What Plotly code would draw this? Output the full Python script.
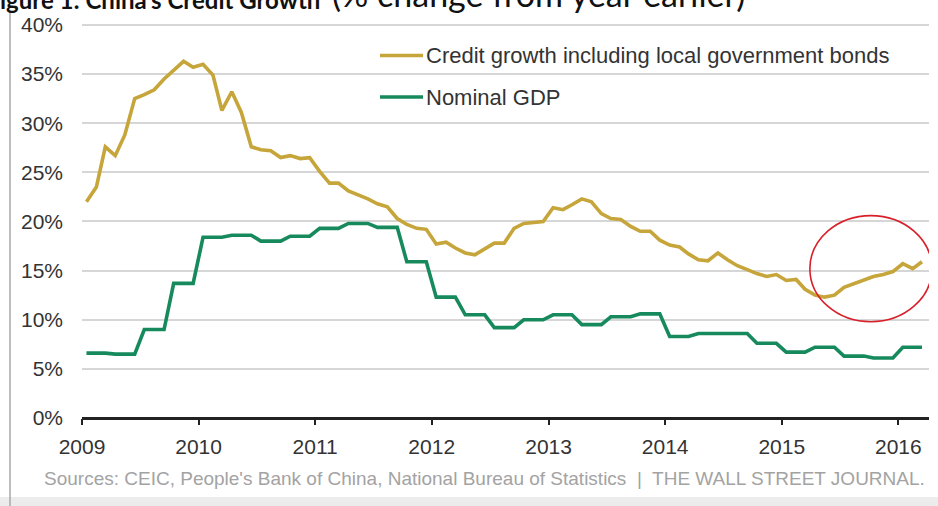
import pandas as pd
import plotly.graph_objects as go

# ---------------- data ----------------
months = pd.date_range("2009-01-01", periods=87, freq="MS") + pd.Timedelta(days=14)

credit_growth = [
    22.0, 23.5, 27.6, 26.7, 28.8, 32.5, 32.9, 33.4, 34.5, 35.4, 36.3, 35.7,   # 2009
    36.0, 34.9, 31.3, 33.2, 31.1, 27.6, 27.3, 27.2, 26.5, 26.7, 26.4, 26.5,   # 2010
    25.1, 23.9, 23.9, 23.1, 22.7, 22.3, 21.8, 21.5, 20.3, 19.7, 19.3, 19.2,   # 2011
    17.7, 17.9, 17.3, 16.8, 16.6, 17.2, 17.8, 17.8, 19.3, 19.8, 19.9, 20.0,   # 2012
    21.4, 21.2, 21.7, 22.3, 22.0, 20.8, 20.3, 20.2, 19.5, 19.0, 19.0, 18.1,   # 2013
    17.6, 17.4, 16.7, 16.1, 16.0, 16.8, 16.1, 15.5, 15.1, 14.7, 14.4, 14.6,   # 2014
    14.0, 14.1, 13.1, 12.5, 12.3, 12.5, 13.3, 13.7, 14.1, 14.4, 14.6, 14.9,   # 2015
    15.7, 15.2, 15.9,                                                         # 2016
]

nominal_gdp = [
    6.6, 6.6, 6.6, 6.5, 6.5, 6.5, 9.0, 9.0, 9.0, 13.7, 13.7, 13.7,
    18.4, 18.4, 18.4, 18.6, 18.6, 18.6, 18.0, 18.0, 18.0, 18.5, 18.5, 18.5,
    19.3, 19.3, 19.3, 19.8, 19.8, 19.8, 19.4, 19.4, 19.4, 15.9, 15.9, 15.9,
    12.3, 12.3, 12.3, 10.5, 10.5, 10.5, 9.2, 9.2, 9.2, 10.0, 10.0, 10.0,
    10.5, 10.5, 10.5, 9.5, 9.5, 9.5, 10.3, 10.3, 10.3, 10.6, 10.6, 10.6,
    8.3, 8.3, 8.3, 8.6, 8.6, 8.6, 8.6, 8.6, 8.6, 7.6, 7.6, 7.6,
    6.7, 6.7, 6.7, 7.2, 7.2, 7.2, 6.3, 6.3, 6.3, 6.1, 6.1, 6.1,
    7.2, 7.2, 7.2,
]

series_names = ["Credit growth including local government bonds", "Nominal GDP"]
series_colors = ["#c6a53a", "#178a5d"]
y_ticks = [0, 5, 10, 15, 20, 25, 30, 35, 40]
y_tick_labels = ["0%", "5%", "10%", "15%", "20%", "25%", "30%", "35%", "40%"]
x_range = ["2009-01-01", "2016-04-06"]
y_range = [0, 40.3]
highlight_x = ["2015-03-30", "2016-04-15"]
highlight_y = [9.8, 20.6]

title_bold = "igure 1: China's Credit Growth"
title_rest = "(% change from year earlier)"
source_text = ("Sources: CEIC, People's Bank of China, National Bureau of Statistics"
               "  |  THE WALL STREET JOURNAL.")

# ---------------- layout geometry ----------------
W, H = 938, 506
ML, MR, MT, MB = 82, 9, 22, 88
PW, PH = W - ML - MR, H - MT - MB


def px(x):
    return (x - ML) / PW


def py(y):
    return (H - MB - y) / PH


FONT = "Liberation Sans, Arial, sans-serif"

fig = go.Figure()
for vals, name, col in zip([credit_growth, nominal_gdp], series_names, series_colors):
    fig.add_trace(go.Scatter(
        x=months, y=vals, name=name, mode="lines",
        line=dict(color=col, width=3.6), showlegend=False,
    ))

shapes = []
annotations = []

# custom legend
for i, (name, col) in enumerate(zip(series_names, series_colors)):
    yy = 55.5 + i * 41.5
    shapes.append(dict(type="line", xref="paper", yref="paper",
                       x0=px(380), x1=px(423), y0=py(yy), y1=py(yy),
                       line=dict(color=col, width=3.6)))
    annotations.append(dict(xref="paper", yref="paper", x=px(424), y=py(yy),
                            xanchor="left", yanchor="middle", showarrow=False,
                            text=name, font=dict(family=FONT, size=22, color="#333333")))

# red highlight ellipse
shapes.append(dict(type="circle", xref="x", yref="y",
                   x0=highlight_x[0], x1=highlight_x[1],
                   y0=highlight_y[0], y1=highlight_y[1],
                   line=dict(color="#d8202a", width=1.6)))

# frame: left border and bottom strip
shapes.append(dict(type="line", xref="paper", yref="paper",
                   x0=px(10), x1=px(10), y0=py(10), y1=py(506),
                   line=dict(color="#a8a8a8", width=1.5)))
shapes.append(dict(type="rect", xref="paper", yref="paper",
                   x0=px(0), x1=px(938), y0=py(497), y1=py(506),
                   fillcolor="#ececec", line=dict(width=0), layer="below"))

# title (cut off at top, as in the reference)
annotations.append(dict(xref="paper", yref="paper", x=px(-2), y=py(-0.5),
                        xanchor="left", yanchor="middle", showarrow=False,
                        text="<b>" + title_bold + "</b>",
                        font=dict(family="Lato, Open Sans, sans-serif", size=24, color="#111111")))
annotations.append(dict(xref="paper", yref="paper", x=px(330), y=py(-6),
                        xanchor="left", yanchor="middle", showarrow=False,
                        text=title_rest,
                        font=dict(family="Lato, Open Sans, sans-serif", size=34, color="#111111")))

# source
annotations.append(dict(xref="paper", yref="paper", x=px(42), y=py(478),
                        xanchor="left", yanchor="middle", showarrow=False,
                        text=source_text,
                        font=dict(family=FONT, size=19, color="#a3a3a3")))

fig.update_layout(
    width=W, height=H,
    margin=dict(l=ML, r=MR, t=MT, b=MB, pad=0),
    paper_bgcolor="white", plot_bgcolor="white",
    shapes=shapes, annotations=annotations,
    font=dict(family=FONT, color="#333333"),
    showlegend=False,
)

fig.update_xaxes(
    type="date", range=x_range,
    tickformat="%Y", dtick="M12", tick0="2009-01-01",
    ticks="outside", ticklen=6, tickwidth=2, tickcolor="#222222",
    showgrid=False, showline=False, zeroline=False,
    tickfont=dict(family=FONT, size=21, color="#333333"),
    ticklabelstandoff=4,
)
fig.update_yaxes(
    range=y_range, tickvals=y_ticks, ticktext=y_tick_labels,
    showgrid=True, gridcolor="#d6d6d6", gridwidth=1.5,
    zeroline=True, zerolinecolor="#222222", zerolinewidth=2.5,
    showline=False, ticks="",
    tickfont=dict(family=FONT, size=21, color="#333333"),
    ticklabelstandoff=18,
)

fig.write_html("out.html")
